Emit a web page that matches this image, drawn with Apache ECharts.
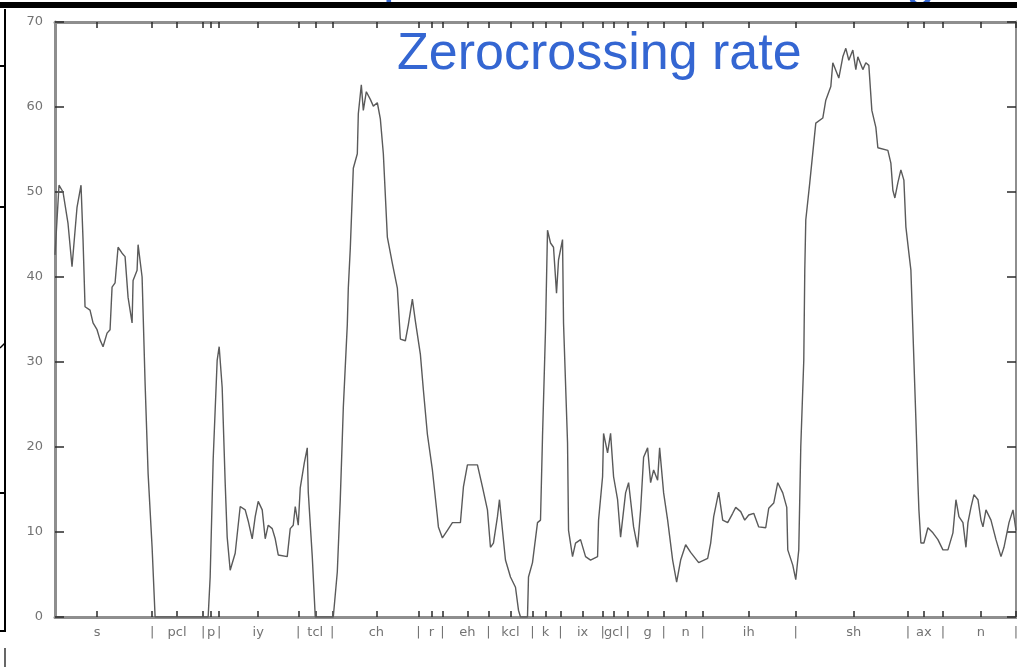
<!DOCTYPE html>
<html>
<head>
<meta charset="utf-8">
<script src="https://cdn.jsdelivr.net/npm/echarts@6/dist/echarts.min.js"></script>
<style>
html,body{margin:0;padding:0;background:#fff;}
#chart{width:1017px;height:668px;}
</style>
</head>
<body>
<div id="chart"></div>
<script>
// Frame index (time) and zero-crossing rate values
const frames = [0,0.5,1,2,3.25,4.25,5.5,6.5,7,7.5,8.75,9.5,10.5,11.25,12,13,13.75,14.25,15,15.75,16.75,17.5,18.25,19.25,19.5,20.5,20.75,21.75,22.5,23.25,24.25,25,38.25,38.75,39.5,40.5,41,41.75,42.5,43,43.75,45,46.25,47.5,48.25,49.25,50,50.75,51.75,52.5,53.25,54.25,55,55.75,58,58.75,59.5,60,60.75,61.25,62.25,63,63.25,64.25,65,69.5,70.5,71.25,72,73,73.25,73.75,74.5,75.5,75.75,76.5,77,77.75,78.75,79.5,80.5,81.25,82,83,84.25,85.5,86.25,87.5,88.25,89.25,90,91.25,92,93,94.25,95.5,95.75,96.75,98,99.25,101.25,102,103,105.5,106.75,108,108.75,109.5,110.5,111,111.75,112.5,113.75,115,115.75,116.25,118,118.25,119.25,120.5,121.25,121.75,122.5,123,123.75,124.5,125.25,125.75,126.75,127,128,128.25,129.25,130,131.25,132.5,133.75,135.5,135.75,136.75,137,138,138.75,139.5,140.5,141.25,142.5,143.25,144.5,145.5,146.25,147,148,148.75,149.5,150.5,151,152,153,154.25,155.25,156.25,157.5,158.75,160.75,163,163.75,164.5,165.75,166.75,168,169.25,170,171.25,172.25,173.25,174.5,175.75,177.5,178.25,179.5,180.5,181.75,182.75,183,184.25,185,185.75,186.25,187,187.25,187.5,188.5,189.25,190,191.75,192.5,193.75,194.25,195.75,196.75,197.5,198.25,199.25,200,200.5,201.75,202.5,203.25,204,205,205.5,208,208.75,209.25,209.75,210.5,211.25,212,212.5,213.25,213.75,214.5,215,215.5,215.75,216.25,217,218,219.25,220.5,221.75,223,224.25,225,225.75,226.75,227.5,228,228.75,229.5,230.5,231.25,231.75,232.5,233.75,235,236.25,237,238.25,239.25,240];
const zcr = [42.6,46.7,50.8,50,46.3,41.2,48.2,50.8,44.4,36.5,36.1,34.6,33.8,32.6,31.8,33.4,33.8,38.8,39.3,43.5,42.8,42.4,37.6,34.6,39.6,40.8,43.8,40,27.5,16.9,8.2,0,0,4.7,18.5,30.2,31.8,27,15.8,9.4,5.5,7.5,13,12.6,11.3,9.2,11.8,13.6,12.6,9.2,10.8,10.4,9.2,7.3,7.1,10.4,10.8,13,10.8,15.2,18.1,19.9,14.7,7.1,0,0,5.3,13.9,24.6,34.4,38.7,43.4,52.8,54.5,59.2,62.6,59.6,61.8,60.9,60.1,60.5,58.6,54.5,44.7,41.6,38.7,32.7,32.5,34.4,37.4,34.8,30.9,26.7,21.5,17.3,11.8,10.6,9.3,10.2,11.1,11.1,15.3,17.9,17.9,15.3,12.6,8.2,8.7,11.8,13.8,10.2,6.7,4.7,3.5,0.8,0,0,4.7,6.4,11.1,11.4,21.2,33.8,45.5,44,43.5,38.1,42,44.4,34.6,20.5,10.2,7.1,8.7,9.1,7.1,6.7,7.1,11.4,16.5,21.6,19.3,21.6,16.5,13.8,9.4,14.6,15.8,10.6,8.2,12.6,18.8,19.9,15.8,17.3,16.1,19.9,14.6,11.4,6.7,4.1,6.7,8.5,7.6,6.4,6.9,8.7,11.8,14.7,11.4,11.1,12.2,12.9,12.4,11.4,12,12.2,10.6,10.5,12.8,13.4,15.8,14.6,12.9,7.9,6.1,4.4,7.9,20,30.2,40.8,46.7,51.1,54.6,58.1,58.7,60.8,62.4,65.2,63.4,65.9,66.9,65.5,66.7,64.4,65.9,64.4,65.2,64.9,59.6,57.6,55.2,54.9,53.4,50.2,49.3,51.1,52.6,51.4,45.9,42.8,40.8,30.2,23.2,15.8,12.6,8.7,8.7,10.5,9.9,9.1,7.9,7.9,9.9,13.8,11.8,11.1,8.2,11.1,12.9,14.4,13.8,11.4,10.6,12.6,11.4,9.1,7.1,8.2,11.1,12.6,10.2];
// Phone segmentation tick marks and labels
const tickPos = [10.5,24.25,30.5,37,39,41,50.75,60.75,65,69.25,80.25,90.75,94,96.75,103,108.25,113.75,119.25,122.5,126.25,131.75,136.75,139.5,143,148,152,157.5,161.75,173.25,185,199.5,213,217,221.75,231.25,240];
const tickLabels = ['s','|','pcl','|','p','|','iy','|','tcl','|','ch','|','r','|','eh','|','kcl','|','k','|','ix','|','gcl','|','g','|','n','|','ih','|','sh','|','ax','|','n','|'];
const yTicks = [0,10,20,30,40,50,60,70];
const titleText = 'Zerocrossing rate';

const chart = echarts.init(document.getElementById('chart'), null, {renderer: 'canvas'});
const lineData = frames.map((f, i) => [f, zcr[i]]);
const axisCol = '#8e8e8e';
const tickCol = '#2a2a2a';
const labelCol = '#737373';

function labelFor(v) {
  for (let i = 0; i < tickPos.length; i++) if (Math.abs(tickPos[i] - v) < 1e-6) return tickLabels[i];
  return '';
}

chart.setOption({
  animation: false,
  backgroundColor: '#ffffff',
  grid: {left: 55, top: 22, width: 961, height: 595, outerBoundsMode: 'none', containLabel: false},
  xAxis: [{
    type: 'value', min: 0, max: 240, position: 'bottom',
    axisLine: {show: true, onZero: false, lineStyle: {color: axisCol, width: 3}},
    axisTick: {show: true, inside: true, length: 6, customValues: tickPos, lineStyle: {color: tickCol, width: 1.5}},
    axisLabel: {show: true, customValues: tickPos, formatter: labelFor, margin: 9, color: labelCol,
      fontFamily: 'DejaVu Sans', fontSize: 13, hideOverlap: false},
    splitLine: {show: false}
  }, {
    type: 'value', min: 0, max: 240, position: 'top',
    axisLine: {show: true, onZero: false, lineStyle: {color: axisCol, width: 3}},
    axisTick: {show: true, inside: true, length: 6, customValues: tickPos, lineStyle: {color: tickCol, width: 1.5}},
    axisLabel: {show: false},
    splitLine: {show: false}
  }],
  yAxis: [{
    type: 'value', min: 0, max: 70, interval: 10, position: 'left',
    axisLine: {show: true, onZero: false, lineStyle: {color: axisCol, width: 3}},
    axisTick: {show: true, inside: true, length: 9, lineStyle: {color: tickCol, width: 1.5}},
    axisLabel: {show: true, margin: 12, color: labelCol, fontFamily: 'DejaVu Sans', fontSize: 13,
      formatter: v => (yTicks.indexOf(v) >= 0 ? String(v) : '')},
    splitLine: {show: false}
  }, {
    type: 'value', min: 0, max: 70, interval: 10, position: 'right',
    axisLine: {show: true, onZero: false, lineStyle: {color: axisCol, width: 3}},
    axisTick: {show: true, inside: true, length: 9, lineStyle: {color: tickCol, width: 1.5}},
    axisLabel: {show: false},
    splitLine: {show: false}
  }],
  series: [{
    type: 'line', xAxisIndex: 0, yAxisIndex: 0, data: lineData,
    showSymbol: false, symbol: 'none', smooth: false,
    lineStyle: {color: '#5a5a5a', width: 1.4},
    z: 3
  }],
  graphic: [
    {type: 'text', x: 383, y: 7, style: {text: 'p', font: '52px "Liberation Sans"', fill: '#3466d2', verticalAlign: 'bottom', align: 'left'}, z: 9},
    {type: 'text', x: 906, y: 7, style: {text: 'g', font: '52px "Liberation Sans"', fill: '#3466d2', verticalAlign: 'bottom', align: 'left'}, z: 9},
    {type: 'rect', shape: {x: 0, y: 2, width: 1017, height: 6}, style: {fill: '#000'}, z: 10},
    {type: 'text', x: 397, y: 55, style: {text: titleText, font: '52px "Liberation Sans"', fill: '#3466d2', verticalAlign: 'middle', align: 'left'}, z: 10},
    {type: 'line', shape: {x1: 5, y1: 9, x2: 5, y2: 631}, style: {stroke: '#000', lineWidth: 2}, z: 10},
    {type: 'line', shape: {x1: 0, y1: 66, x2: 5, y2: 66}, style: {stroke: '#000', lineWidth: 2}, z: 10},
    {type: 'line', shape: {x1: 0, y1: 207, x2: 5, y2: 207}, style: {stroke: '#000', lineWidth: 2}, z: 10},
    {type: 'line', shape: {x1: 0, y1: 493, x2: 5, y2: 493}, style: {stroke: '#000', lineWidth: 2}, z: 10},
    {type: 'line', shape: {x1: 0, y1: 631, x2: 6, y2: 631}, style: {stroke: '#000', lineWidth: 2}, z: 10},
    {type: 'line', shape: {x1: 0, y1: 348, x2: 5, y2: 343}, style: {stroke: '#000', lineWidth: 1.5}, z: 10},
    {type: 'line', shape: {x1: 5, y1: 648, x2: 5, y2: 667}, style: {stroke: '#000', lineWidth: 1.2}, z: 10}
  ]
});
</script>
</body>
</html>
